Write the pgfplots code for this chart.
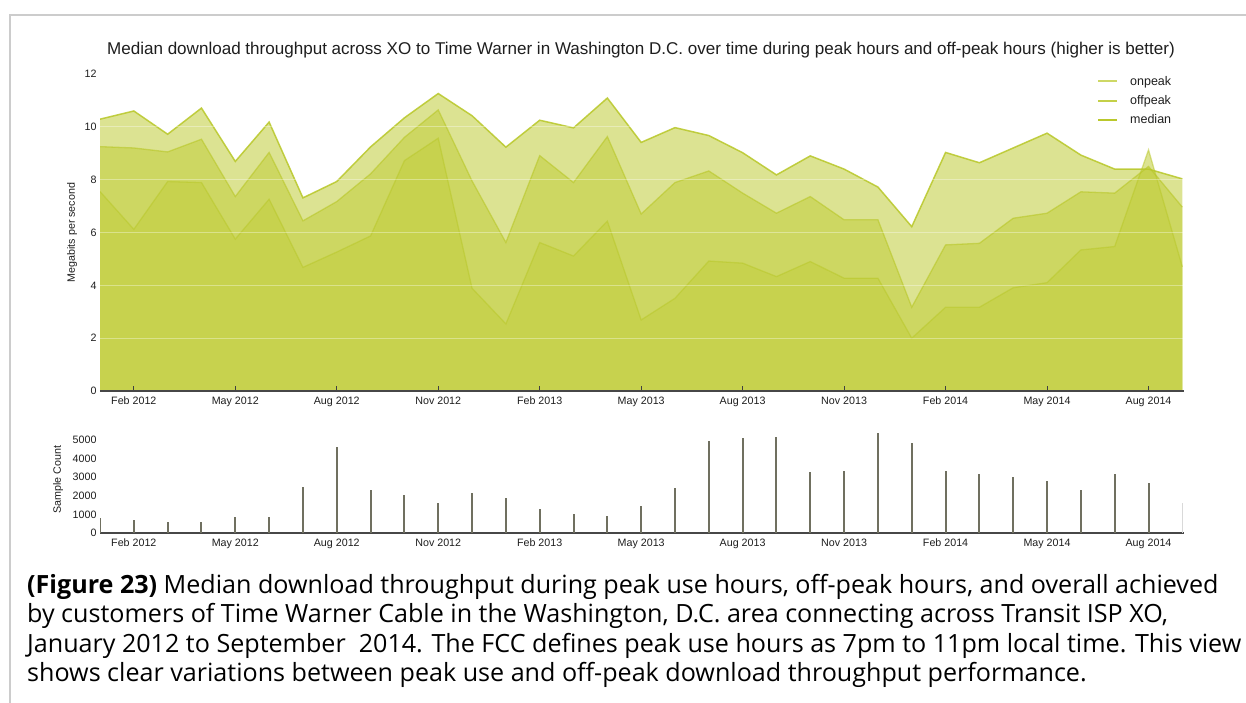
\documentclass[border=0pt]{standalone}
\usepackage{fontspec}
\setmainfont{Liberation Sans}
\newfontfamily\capfont{Open Sans}
\usepackage{pgfplots}
\pgfplotsset{compat=1.18}
\usepackage{pgfplotstable}

\definecolor{lime}{RGB}{194,206,63}
\definecolor{limeline}{RGB}{184,199,40}
\definecolor{lgon}{RGB}{206,216,102}
\definecolor{lgoff}{RGB}{196,208,72}
\definecolor{lgmed}{RGB}{186,200,44}
\definecolor{stem}{RGB}{112,112,96}
\definecolor{framegray}{RGB}{204,204,204}
\definecolor{txt}{RGB}{30,30,30}

% month index 0 = Jan 2012
\pgfplotstableread{
idx off   med   on    cnt
0   10.29 9.25  7.55  790
1   10.60 9.20  6.12  700
2   9.72  9.05  7.93  590
3   10.71 9.53  7.89  590
4   8.69  7.36  5.75  880
5   10.18 9.03  7.26  880
6   7.31  6.44  4.68  2490
7   7.93  7.17  5.26  4640
8   9.24  8.22  5.87  2290
9   10.34 9.60  8.72  2040
10  11.26 10.64 9.57  1610
11  10.42 7.95  3.89  2150
12  9.23  5.62  2.54  1900
13  10.25 8.91  5.62  1290
14  9.96  7.89  5.11  1000
15  11.09 9.63  6.43  900
16  9.41  6.70  2.69  1430
17  9.97  7.89  3.51  2420
18  9.67  8.33  4.92  4960
19  9.02  7.49  4.84  5090
20  8.18  6.73  4.33  5140
21  8.90  7.36  4.90  3260
22  8.40  6.48  4.27  3350
23  7.72  6.48  4.27  5360
24  6.22  3.17  2.00  4820
25  9.03  5.53  3.17  3310
26  8.64  5.59  3.17  3170
27  9.20  6.54  3.91  2990
28  9.76  6.73  4.10  2800
29  8.93  7.54  5.34  2330
30  8.40  7.49  5.47  3170
31  8.40  8.50  9.13  2670
32  8.03  6.96  4.70  1600
}\tput

\pgfplotsset{base/.style={
  scale only axis, width=1084pt, xmin=0, xmax=32.05,
  axis x line*=bottom, axis y line*=left,
  y axis line style={draw=none}, ytick style={draw=none},
  x axis line style={draw=black!72, line width=1.5pt},
  xtick={1,4,...,31},
  xticklabels={Feb 2012,May 2012,Aug 2012,Nov 2012,Feb 2013,May 2013,Aug 2013,Nov 2013,Feb 2014,May 2014,Aug 2014},
  xtick align=inside, xtick style={draw=black!75, line width=0.8pt},
  major tick length=5pt,
  tick label style={font=\fontsize{10.7}{12}\selectfont, text=txt},
  xticklabel style={yshift=-2.5pt},
  /pgf/number format/assume math mode=true,
  label style={font=\fontsize{10.7}{12}\selectfont, text=txt},
}}

\begin{document}
\begin{tikzpicture}
\useasboundingbox (0,0) rectangle (1246pt,-703pt);
\draw[framegray, line width=2pt] (10pt,-703pt) -- (10pt,-15pt) -- (1246pt,-15pt);

\node[font=\fontsize{17.05}{20}\selectfont, text=txt] at (641pt,-50pt)
  {Median download throughput across XO to Time Warner in Washington D.C. over time during peak hours and off-peak hours (higher is better)};

\begin{axis}[base, at={(100pt,-391pt)}, anchor=south west,
  height=317pt, ymin=0, ymax=12, ytick={0,2,...,12},
  ymajorgrids, grid style={white, opacity=0.35, line width=0.8pt},
  axis on top,
  ylabel={Megabits per second},
  ylabel style={at={(axis description cs:-0.0258,0.5)}, anchor=center},
  legend style={at={(axis description cs:0.9197,1.0)}, anchor=north west,
    draw=none, fill=none, font=\fontsize{12.5}{14}\selectfont, text=txt,
    row sep=4.5pt, inner sep=0pt},
  legend cell align=left,
  legend image code/.code={\draw[#1] (0pt,0pt) -- (19pt,0pt); \path (29pt,0pt);}]
  \addlegendimage{draw=lgon, line width=2pt}
  \addlegendimage{draw=lgoff, line width=2pt}
  \addlegendimage{draw=lgmed, line width=2pt}
  \addplot[fill=lime, fill opacity=0.57, draw=none] table[x=idx,y=off]{\tput} \closedcycle;
  \addplot[fill=lime, fill opacity=0.57, draw=none] table[x=idx,y=med]{\tput} \closedcycle;
  \addplot[fill=lime, fill opacity=0.57, draw=none] table[x=idx,y=on]{\tput} \closedcycle;
  \addplot[limeline, line width=1.5pt, draw opacity=0.85] table[x=idx,y=off]{\tput};
  \addplot[limeline, line width=1.3pt, draw opacity=0.6] table[x=idx,y=med]{\tput};
  \addplot[limeline, line width=1.3pt, draw opacity=0.5] table[x=idx,y=on]{\tput};
  \legend{onpeak,offpeak,median}
\end{axis}

\begin{axis}[base, at={(100pt,-533pt)}, anchor=south west,
  height=102.3pt, ymin=0, ymax=5500, ytick={0,1000,...,5000},
  yticklabel style={/pgf/number format/1000 sep={}},
  ylabel={Sample Count},
  ylabel style={at={(axis description cs:-0.0387,0.52)}, anchor=center}]
  \addplot[ycomb, stem, line width=2pt, restrict x to domain=0:31] table[x=idx,y=cnt]{\tput};
  \addplot[ycomb, black!15, line width=1pt, restrict x to domain=32:32] table[x=idx,y=cnt]{\tput};
\end{axis}

\begin{scope}[every node/.style={anchor=base west, inner sep=0pt, font=\capfont\fontsize{25.1}{28}\selectfont, text=black}]
\node at (27pt,-593pt) {\textbf{(Figure 23)} Median download throughput during peak use hours, off-peak hours, and overall achieved};
\node at (27pt,-622pt) {by customers of Time Warner Cable in the Washington, D.C. area connecting across Transit ISP XO,};
\node at (27pt,-652pt) {January 2012 to September\ \ 2014. The FCC defines peak use hours as 7pm to 11pm local time. This view};
\node at (27pt,-681pt) {shows clear variations between peak use and off-peak download throughput performance.};
\end{scope}
\end{tikzpicture}
\end{document}
